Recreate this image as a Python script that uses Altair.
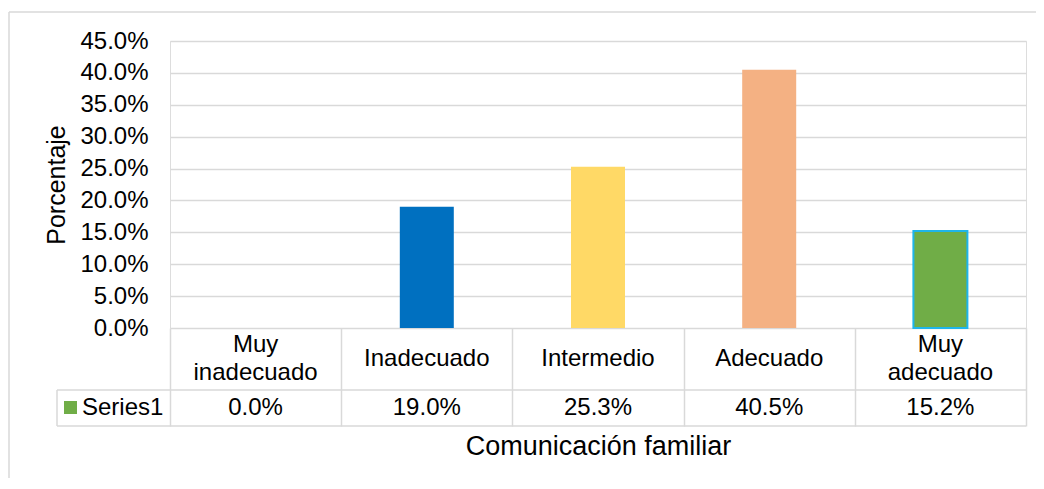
import altair as alt
import pandas as pd

categories = ["Muy inadecuado", "Inadecuado", "Intermedio", "Adecuado", "Muy adecuado"]
cat_labels = ["Muy\ninadecuado", "Inadecuado", "Intermedio", "Adecuado", "Muy\nadecuado"]
values = [0.0, 19.0, 25.3, 40.5, 15.2]
bar_colors = ["#5B9BD5", "#0070C0", "#FFD966", "#F4B183", "#70AD47"]
bar_strokes = ["transparent", "transparent", "transparent", "transparent", "#1FB5EA"]
y_ticks = [0, 5, 10, 15, 20, 25, 30, 35, 40, 45]
series_name = "Series1"
x_title = "Comunicación familiar"
y_title = "Porcentaje"

df = pd.DataFrame({"cat": categories, "label": cat_labels, "value": values})

FONT = "Liberation Sans"
GRID = "#D9D9D9"
W, H = 856, 287
FS = 24

x_enc = alt.X("cat:N", sort=categories,
              scale=alt.Scale(paddingInner=0, paddingOuter=0),
              axis=alt.Axis(labels=False, domain=False, ticks=True, tickBand="extent",
                            tickSize=98, tickColor=GRID, tickWidth=1.5, grid=False,
                            title=x_title, titleFont=FONT, titleFontSize=27,
                            titleFontWeight="normal", titleColor="#000000", titlePadding=7))

bars = alt.Chart(df).mark_bar(size=54, strokeWidth=2).encode(
    x=x_enc,
    y=alt.Y("value:Q", scale=alt.Scale(domain=[0, 45], nice=False),
            axis=alt.Axis(values=y_ticks, labelExpr="format(datum.value, '.1f') + '%'",
                          domain=False, ticks=False, grid=True, gridColor=GRID, gridWidth=1.5,
                          labelFont=FONT, labelFontSize=FS, labelColor="#000000", labelPadding=22,
                          title=y_title, titleFont=FONT, titleFontSize=25, titleFontWeight="normal",
                          titleColor="#000000", titlePadding=10)),
    color=alt.Color("cat:N", sort=categories,
                    scale=alt.Scale(domain=categories, range=bar_colors), legend=None),
    stroke=alt.Stroke("cat:N", sort=categories,
                      scale=alt.Scale(domain=categories, range=bar_strokes), legend=None),
)

cat_single = alt.Chart(df).transform_filter(
    "indexof(datum.label, '\\n') < 0"
).mark_text(font=FONT, fontSize=FS, baseline="middle", color="#000000").encode(
    x=alt.X("cat:N", sort=categories), y=alt.value(318), text="label:N")

cat_multi = alt.Chart(df).transform_filter(
    "indexof(datum.label, '\\n') >= 0"
).mark_text(font=FONT, fontSize=FS, lineBreak="\n", baseline="middle",
            color="#000000", lineHeight=28).encode(
    x=alt.X("cat:N", sort=categories), y=alt.value(304), text="label:N")

val_text = alt.Chart(df).transform_calculate(
    vtxt="format(datum.value, '.1f') + '%'"
).mark_text(font=FONT, fontSize=FS, baseline="middle", color="#000000").encode(
    x=alt.X("cat:N", sort=categories), y=alt.value(367), text="vtxt:N")

one = pd.DataFrame({"k": [0]})


def hrule(x1, x2, y, color=GRID, w=1.5):
    return alt.Chart(one).mark_rule(color=color, strokeWidth=w).encode(
        x=alt.value(x1), x2=alt.value(x2), y=alt.value(y))


def vrule(x, y1, y2, color=GRID, w=1.5):
    return alt.Chart(one).mark_rule(color=color, strokeWidth=w).encode(
        x=alt.value(x), y=alt.value(y1), y2=alt.value(y2))


table_lines = [hrule(-113, W, 349), hrule(-113, W, 385), vrule(-113, 349, 385)]
border = [hrule(-161, W + 30, -29), vrule(-161, -29, 460)]

series_text = alt.Chart(pd.DataFrame({"s": [series_name]})).mark_text(
    font=FONT, fontSize=FS, align="left", baseline="middle", color="#000000").encode(
    x=alt.value(-88), y=alt.value(367), text="s:N")
series_box = alt.Chart(pd.DataFrame({"s": [series_name]})).mark_rect(color="#70AD47").encode(
    x=alt.value(-106), x2=alt.value(-93), y=alt.value(360), y2=alt.value(373))

chart = alt.layer(
    *border, bars, *table_lines, cat_single, cat_multi, val_text, series_box, series_text
).properties(
    width=W, height=H,
    autosize=alt.AutoSizeParams(type="none"),
    padding={"left": 162, "top": 33, "right": 10, "bottom": 150},
).configure_view(stroke=None).configure(background="white")

chart.save("out.html", embed_options={"renderer": "svg", "actions": False})
